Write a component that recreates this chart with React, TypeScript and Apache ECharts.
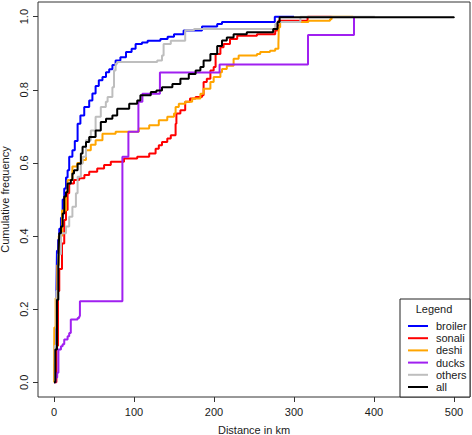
import React, { useEffect, useRef } from "react";
import * as echarts from "echarts";

const seriesNames = ["broiler", "sonali", "deshi", "ducks", "others", "all"];
const seriesColors = ["#0000FF", "#FF0000", "#FFA500", "#A020F0", "#BEBEBE", "#000000"];

const xTicks = [0, 100, 200, 300, 400, 500];
const yTicks = [0, 0.2, 0.4, 0.6, 0.8, 1.0];

// [distance km, cumulative frequency]
const broiler: [number, number][] = [
  [0, 0], [1, 0.05], [2, 0.15], [3, 0.25], [3.7, 0.36], [5, 0.39], [6.6, 0.42], [8.7, 0.45],
  [10.8, 0.5], [12.8, 0.53], [15, 0.56], [17, 0.58], [19, 0.617], [23, 0.635], [26, 0.66],
  [29.5, 0.707], [33, 0.73], [37.8, 0.753], [44, 0.771], [48, 0.79], [52, 0.81], [56, 0.826],
  [60.6, 0.835], [65, 0.848], [69, 0.856], [73, 0.868], [77, 0.88], [83, 0.889], [90, 0.903],
  [97, 0.912], [102, 0.925], [110, 0.929], [117, 0.934], [133, 0.939], [142, 0.945],
  [150, 0.952], [162, 0.962], [185, 0.973], [204, 0.98], [210, 0.985], [276, 1.0], [300, 1.0],
];
const sonali: [number, number][] = [
  [0, 0], [3, 0.1], [5, 0.25], [6.6, 0.31], [10, 0.38], [12.8, 0.444], [15, 0.471], [17, 0.517],
  [19, 0.544], [25, 0.553], [31.5, 0.558], [38, 0.567], [44, 0.576], [54, 0.585], [62.6, 0.594],
  [71, 0.603], [87.5, 0.612], [104, 0.617], [119, 0.626], [127, 0.639], [131, 0.648],
  [135, 0.657], [141.6, 0.667], [146, 0.676], [152, 0.707], [153, 0.735], [158, 0.744],
  [164, 0.767], [170, 0.776], [177, 0.78], [185, 0.785], [187, 0.821], [191, 0.83],
  [195.5, 0.853], [199.6, 0.862], [202, 0.898], [208, 0.916], [212, 0.925], [220, 0.939],
  [229, 0.948], [253.7, 0.952], [276.5, 0.962], [279.4, 0.975], [280.5, 0.989], [317, 1.0],
  [347, 1.0],
];
const deshi: [number, number][] = [
  [0, 0], [0.4, 0.15], [2, 0.23], [4, 0.32], [6, 0.4], [10, 0.47], [15, 0.52], [17, 0.553],
  [23, 0.59], [29, 0.6], [35.7, 0.608], [40, 0.635], [46, 0.65], [52, 0.662], [60.6, 0.68],
  [77, 0.685], [106, 0.694], [119, 0.703], [131, 0.717], [141.6, 0.726], [150, 0.735],
  [152, 0.753], [156, 0.762], [164, 0.767], [172.7, 0.776], [183, 0.789], [187, 0.803],
  [195.5, 0.821], [199.6, 0.835], [208, 0.848], [210, 0.857], [216, 0.866], [224.5, 0.885],
  [230.8, 0.894], [253.7, 0.898], [257.8, 0.903], [270, 0.907], [276.5, 0.912],
  [280.5, 0.925], [281, 0.971], [282.7, 0.985], [318, 0.989], [345, 0.993], [347, 1.0],
  [374, 1.0],
];
const ducks: [number, number][] = [
  [0, 0], [2, 0.013], [4, 0.026], [5.5, 0.09], [8.7, 0.099], [10.8, 0.104], [12.8, 0.117],
  [17, 0.126], [19, 0.135], [21, 0.172], [29.5, 0.176], [31.5, 0.181], [32.4, 0.222],
  [85.5, 0.617], [93, 0.685], [105.5, 0.767], [110.5, 0.789], [132.4, 0.847], [207, 0.869],
  [317.5, 0.95], [375, 1.0],
];
const others: [number, number][] = [
  [0, 0], [1, 0.1], [3, 0.25], [5, 0.35], [8.7, 0.408], [15, 0.426], [19, 0.453], [23, 0.48],
  [27.4, 0.517], [29.5, 0.562], [33.6, 0.598], [35.7, 0.617], [40, 0.662], [46, 0.689],
  [52, 0.726], [58.5, 0.753], [64.8, 0.767], [67, 0.78], [73, 0.807], [75, 0.853], [77, 0.871],
  [79, 0.876], [129, 0.88], [135, 0.894], [137, 0.925], [146, 0.934], [164, 0.963],
  [175, 0.966], [276.5, 0.98], [280, 0.985], [308, 1.0], [401, 1.0],
];
const all: [number, number][] = [
  [0, 0], [1.7, 0.09], [3.7, 0.226], [5.4, 0.317], [5.8, 0.362], [6.6, 0.408], [8.7, 0.426],
  [10.8, 0.462], [12.8, 0.508], [15, 0.52], [17, 0.544], [21, 0.553], [23, 0.571], [25, 0.58],
  [29.5, 0.598], [33.6, 0.626], [35.7, 0.644], [40, 0.657], [44, 0.671], [52, 0.689],
  [58.5, 0.712], [65, 0.721], [73, 0.73], [79, 0.748], [94, 0.762], [104, 0.771], [108, 0.785],
  [121, 0.794], [128, 0.798], [135, 0.807], [148, 0.816], [158, 0.83], [168.5, 0.843],
  [177, 0.853], [183, 0.862], [187, 0.88], [195.5, 0.898], [204, 0.92], [210, 0.935],
  [216, 0.943], [224.5, 0.952], [241, 0.957], [274, 0.966], [279.4, 0.985], [282, 0.998],
  [500, 1.0],
];

const seriesData = [broiler, sonali, deshi, ducks, others, all];

const FONT = "Liberation Sans, Arial, sans-serif";
const TEXT = "#1a1a1a";

// legend layout (pixels)
const LEG_X = 400;
const LEG_Y = 299;
const LEG_W = 70;
const LEG_H = 98;
const LEG_ROW0 = 326;
const LEG_ROW_STEP = 12.2;

export default function App() {
  const ref = useRef<HTMLDivElement>(null);
  useEffect(() => {
    if (!ref.current) return;
    const chart = echarts.init(ref.current, undefined, { renderer: "svg" });

    const legendGraphics: any[] = [
      {
        type: "rect",
        shape: { x: LEG_X, y: LEG_Y, width: LEG_W, height: LEG_H },
        style: { fill: "#fff", stroke: "#222", lineWidth: 1 },
        z: 10,
      },
      {
        type: "text",
        x: LEG_X + 34,
        y: LEG_Y + 10,
        style: {
          text: "Legend",
          fontFamily: FONT,
          fontSize: 11,
          fill: TEXT,
          align: "center",
          verticalAlign: "middle",
        },
        z: 11,
      },
    ];
    seriesNames.forEach((name, i) => {
      const yy = LEG_ROW0 + i * LEG_ROW_STEP;
      legendGraphics.push({
        type: "line",
        shape: { x1: LEG_X + 8, y1: yy, x2: LEG_X + 28, y2: yy },
        style: { stroke: seriesColors[i], lineWidth: 2 },
        z: 11,
      });
      legendGraphics.push({
        type: "text",
        x: LEG_X + 36,
        y: yy,
        style: {
          text: name,
          fontFamily: FONT,
          fontSize: 11,
          fill: TEXT,
          align: "left",
          verticalAlign: "middle",
        },
        z: 11,
      });
    });

    chart.setOption({
      animation: false,
      backgroundColor: "#ffffff",
      grid: {
        left: 38,
        right: 2,
        top: 2,
        bottom: 38,
        show: true,
        borderColor: "#333",
        borderWidth: 1,
        backgroundColor: "transparent",
        containLabel: false,
        outerBoundsMode: "none",
      },
      xAxis: {
        type: "value",
        min: -20,
        max: 520,
        name: "Distance in km",
        nameLocation: "middle",
        nameGap: 27,
        nameTextStyle: { fontFamily: FONT, fontSize: 11, color: TEXT },
        axisLine: { show: false, onZero: false },
        axisTick: { show: true, customValues: xTicks, length: 5, lineStyle: { color: "#333" } },
        axisLabel: { customValues: xTicks, margin: 9, fontFamily: FONT, fontSize: 11, color: TEXT },
        splitLine: { show: false },
      },
      yAxis: {
        type: "value",
        min: -0.04,
        max: 1.04,
        name: "Cumulative frequency",
        nameLocation: "middle",
        nameGap: 26,
        nameRotate: 90,
        nameTextStyle: { fontFamily: FONT, fontSize: 11, color: TEXT },
        axisLine: { show: false, onZero: false },
        axisTick: { show: true, customValues: yTicks, length: 5, lineStyle: { color: "#333" } },
        axisLabel: {
          customValues: yTicks,
          rotate: 90,
          margin: 9,
          fontFamily: FONT,
          fontSize: 11,
          color: TEXT,
          formatter: (v: number) => v.toFixed(1),
        },
        splitLine: { show: false },
      },
      graphic: legendGraphics,
      series: seriesNames.map((name, i) => ({
        name,
        type: "line",
        step: "end",
        showSymbol: false,
        symbol: "none",
        data: seriesData[i],
        lineStyle: { color: seriesColors[i], width: 2 },
        itemStyle: { color: seriesColors[i] },
        z: 2 + i,
      })),
    });
    return () => chart.dispose();
  }, []);
  return (
    <div
      ref={ref}
      style={{ position: "fixed", left: 0, top: 0, width: 472, height: 435, background: "#fff" }}
    />
  );
}
